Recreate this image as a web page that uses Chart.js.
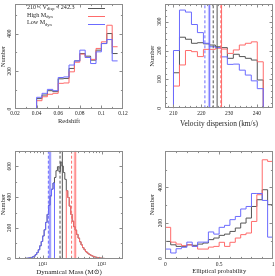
<!DOCTYPE html>
<html><head><meta charset="utf-8">
<script src="https://cdn.jsdelivr.net/npm/chart.js@4.4.0/dist/chart.umd.min.js"></script>
<style>
html,body{margin:0;padding:0;background:#fff;}
#wrap{position:relative;width:275px;height:276px;overflow:hidden;background:#fff;}
canvas{position:absolute;}
</style></head><body>
<div id="wrap">
<canvas id="c1" width="137" height="138" style="left:0;top:0"></canvas>
<canvas id="c2" width="138" height="138" style="left:137px;top:0"></canvas>
<canvas id="c3" width="137" height="138" style="left:0;top:138px"></canvas>
<canvas id="c4" width="138" height="138" style="left:137px;top:138px"></canvas>
</div>
<script>
// ---------------- DATA ----------------
// Panel 1: redshift (bins of 0.005 from 0.04)
const zBinStart = 0.04, zBinWidth = 0.005;
const zAll  = [55, 74, 97, 92, 160, 162, 215, 255, 294, 280, 259, 312, 347, 400, 294];
const zHigh = [44, 65, 78, 83, 136, 138, 197, 248, 291, 273, 263, 321, 356, 444, 330];
const zLow  = [62, 83, 104, 97, 167, 170, 233, 255, 312, 273, 241, 303, 347, 368, 255];
const zTicks = [0.02, 0.04, 0.06, 0.08, 0.10, 0.12];
const zCountTicks = [0, 200, 400];

// Panel 2: velocity dispersion (15 bins from 210 to 242.3)
const vBinStart = 210, vBinEnd = 242.3, vBinCount = 15;
const vAll  = [123, 246, 239, 225, 227, 223, 219, 213, 210, 173, 187, 179, 173, 167, 98];
const vHigh = [77, 150, 200, 196, 179, 204, 204, 208, 205, 190, 202, 219, 225, 230, 161];
const vLow  = [200, 340, 333, 290, 262, 225, 213, 210, 178, 152, 153, 132, 115, 95, 68];
const vTicks = [210, 220, 230, 240];
const vCountTicks = [0, 100, 200, 300];
const vMedianLow = 222.9, vMeanLow = 221.3;
const vMedianAll = 225.7, vMeanAll = 224.3;
const vMedianHigh = 227.3, vMeanHigh = 227.1;

// Panel 3: dynamical mass (log10 bins of 0.025 dex from 10.70)
const mBinStart = 10.70, mBinWidth = 0.025;
const mAll = [2, 3, 4, 6, 8, 12, 17, 27, 40, 58, 84, 112, 148, 188, 236, 288, 348, 408, 452, 492,
              528, 572, 598, 566, 628, 602, 560, 516,
              442, 398, 342, 288, 244, 208, 186, 158, 134, 110, 90, 72, 58, 46, 37, 30, 24, 19, 15, 11, 9, 7, 5, 4, 3, 2, 1, 1];
const mLowStart = 10.70;
const mLow = [2, 3, 4, 6, 8, 12, 17, 27, 40, 58, 84, 112, 148, 188, 236, 288, 348, 408, 452, 492];
const mHighStart = 11.40;
const mHigh = [442, 398, 342, 288, 244, 208, 186, 158, 134, 110, 90, 72, 58, 46, 37, 30, 24, 19, 15, 11, 9, 7, 5, 4, 3, 2, 1, 1];
const mTicks = [1e11, 1e12];
const mCountTicks = [0, 200, 400, 600];
const mMedianLow = 11.124, mMeanLow = 11.096;
const mMedianAll = 11.333, mMeanAll = 11.294;
const mMedianHigh = 11.55, mMeanHigh = 11.49;

// Panel 4: elliptical probability (bins of 0.05)
const pBinStart = 0, pBinWidth = 0.05;
const pAll  = [97, 78, 69, 69, 78, 75, 82, 88, 107, 116, 131, 138, 153, 172, 200, 228, 293, 331, 387, 303];
const pHigh = [176, 93, 82, 73, 78, 69, 54, 54, 65, 69, 92, 69, 92, 116, 135, 144, 209, 359, 555, 546];
const pLow  = [54, 32, 56, 64, 93, 69, 93, 93, 150, 138, 176, 187, 219, 237, 279, 293, 366, 366, 327, 121];
const pTicks = [0, 0.5, 1];
const pCountTicks = [0, 200, 400];

// ---------------- STYLE ----------------
const FONT = '"Liberation Serif", "DejaVu Serif", "DejaVu Sans", serif';
const TICK_SIZE = 5.5;
const TITLE_SIZE = 6.5;
const TEXT = '#262626';
const FRAME = '#8c8c8c';
const C_ALL = '#555555', C_HIGH = '#ff6b6b', C_LOW = '#6b6bff';

function edgesFrom(start, width, n) { const e = []; for (let i = 0; i <= n; i++) e.push(start + i * width); return e; }
function stepPoints(edges, values, rise, drop, tf) {
  tf = tf || (v => v);
  const pts = [];
  if (rise) pts.push({x: tf(edges[0]), y: 0});
  values.forEach((v, i) => pts.push({x: tf(edges[i]), y: v}));
  pts.push({x: tf(edges[values.length]), y: drop ? 0 : values[values.length - 1]});
  return pts;
}
function hist(pts, color) {
  return {data: pts, stepped: true, borderColor: color, borderWidth: 1, pointRadius: 0, fill: false, tension: 0};
}
function vline(x, yMax, color, dash, width) {
  return {data: [{x: x, y: 0}, {x: x, y: yMax}], borderColor: color, borderWidth: width || 1,
          borderDash: dash ? [3, 2] : [], pointRadius: 0, fill: false};
}
function range(a, b, s) { const r = []; for (let v = a; v <= b + 1e-9; v += s) r.push(+v.toFixed(6)); return r; }

const frameTicks = {
  id: 'frameTicks',
  afterDatasetsDraw(chart, args, o) {
    const {ctx, chartArea: a} = chart;
    const xs = chart.scales.x, ys = chart.scales.y;
    const L = Math.round(a.left) + 0.5, R = Math.round(a.right) - 0.5;
    const T = Math.round(a.top) + 0.5, B = Math.round(a.bottom) - 0.5;
    ctx.save();
    ctx.strokeStyle = o.color; ctx.lineWidth = 1;
    ctx.strokeRect(L, T, R - L, B - T);
    ctx.beginPath();
    const xt = (vals, len) => vals.forEach(v => {
      const p = Math.round(xs.getPixelForValue(v)) + 0.5;
      if (p < L + 1 || p > R - 1) return;
      ctx.moveTo(p, B); ctx.lineTo(p, B - len);
      ctx.moveTo(p, T); ctx.lineTo(p, T + len);
    });
    const yt = (vals, len) => vals.forEach(v => {
      const p = Math.round(ys.getPixelForValue(v)) + 0.5;
      if (p < T + 1 || p > B - 1) return;
      ctx.moveTo(L, p); ctx.lineTo(L + len, p);
      ctx.moveTo(R, p); ctx.lineTo(R - len, p);
    });
    xt(xs.ticks.map(t => t.value), o.major);
    yt(ys.ticks.map(t => t.value), o.major);
    xt(o.xMinor || [], o.minor);
    yt(o.yMinor || [], o.minor);
    ctx.stroke();
    ctx.restore();
  }
};

function drawRich(ctx, parts, x, y, size) {
  let cx = x;
  parts.forEach(p => {
    const s = p.sub ? size * 0.72 : size;
    ctx.font = s + 'px ' + FONT;
    ctx.fillText(p.t, cx, y + (p.sub ? size * 0.3 : 0));
    cx += ctx.measureText(p.t).width;
  });
}

const legendPlugin = {
  id: 'sketchLegend',
  afterDraw(chart, args, o) {
    if (!o.items) return;
    const ctx = chart.ctx;
    ctx.save();
    ctx.textBaseline = 'middle'; ctx.textAlign = 'left'; ctx.fillStyle = TEXT;
    o.items.forEach(it => {
      drawRich(ctx, it.parts, o.textX, it.y, o.size);
      ctx.strokeStyle = it.color; ctx.lineWidth = 1;
      ctx.beginPath(); ctx.moveTo(o.lineX0, Math.round(it.ly) + 0.5); ctx.lineTo(o.lineX1, Math.round(it.ly) + 0.5); ctx.stroke();
    });
    ctx.restore();
  }
};

function makeChart(id, g, c) {
  const canvas = document.getElementById(id);
  const ctx = canvas.getContext('2d');
  const W = canvas.width, H = canvas.height;
  const tickFont = {family: FONT, size: TICK_SIZE, lineHeight: 1};
  const titleSize = g.titleSize || TITLE_SIZE;
  const yTitleSize = g.yTitleSize || TITLE_SIZE;
  const titleFont = {family: FONT, size: titleSize, lineHeight: 1};
  const yTitleFont = {family: FONT, size: yTitleSize, lineHeight: 1};
  ctx.font = TICK_SIZE + 'px ' + FONT;
  const widest = Math.max(...c.yTicks.map(v => ctx.measureText(String(v)).width));
  const axisBottom = g.xTitleY + titleSize / 2;
  // Chart.js paints dataset 0 last (on top); list given bottom-to-top, so reverse.
  const datasets = c.datasets.slice().reverse();
  return new Chart(ctx, {
    type: 'line',
    data: {datasets: datasets},
    options: {
      responsive: false, animation: false, events: [],
      layout: {padding: {left: 0, top: g.T, right: W - g.R, bottom: H - axisBottom}},
      plugins: {
        legend: {display: false}, tooltip: {enabled: false},
        frameTicks: {color: FRAME, major: 3, minor: 1.6, xMinor: c.xMinor, yMinor: c.yMinor},
        sketchLegend: c.legend || {}
      },
      scales: {
        x: {
          type: c.xType || 'linear', min: c.xMin, max: c.xMax, bounds: 'data', position: 'bottom',
          grid: {display: false, drawTicks: false, tickLength: 0}, border: {display: false},
          ticks: {font: tickFont, color: TEXT, padding: g.xLabelY - g.B - TICK_SIZE / 2, autoSkip: false,
                  maxRotation: 0, minRotation: 0, callback: c.xFmt},
          afterBuildTicks: s => { s.ticks = c.xTicks.map(v => ({value: v})); },
          afterFit: s => { s.height = axisBottom - g.B; s.paddingLeft = 0; s.paddingRight = 0; },
          title: {display: true, text: c.xTitle, font: titleFont, color: TEXT, padding: 0}
        },
        y: {
          type: 'linear', min: 0, max: c.yMax, bounds: 'data', position: 'left',
          grid: {display: false, drawTicks: false, tickLength: 0}, border: {display: false},
          ticks: {font: tickFont, color: TEXT, minRotation: 90, maxRotation: 90, crossAlign: 'center',
                  padding: g.L - g.yLabelX - widest / 2, autoSkip: false},
          afterBuildTicks: s => { s.ticks = c.yTicks.map(v => ({value: v})); },
          afterFit: s => { s.width = g.L; s.paddingTop = 0; s.paddingBottom = 0; },
          title: {display: true, text: 'Number', font: yTitleFont, color: TEXT,
                  padding: {top: g.yTitleX - yTitleSize / 2, bottom: 0}}
        }
      }
    },
    plugins: [frameTicks, legendPlugin]
  });
}

const fmtDec = v => String(+(+v).toFixed(2));
const supDigits = {'0':'⁰','1':'¹','2':'²','3':'³','4':'⁴','5':'⁵','6':'⁶','7':'⁷','8':'⁸','9':'⁹'};
const fmtPow = v => '10' + String(Math.round(Math.log10(v))).split('').map(d => supDigits[d]).join('');

// Panel 1
const zEdges = edgesFrom(zBinStart, zBinWidth, zAll.length);
makeChart('c1', {L: 15, R: 123, T: 4.3, B: 109, xLabelY: 113.5, xTitleY: 121, yLabelX: 10, yTitleX: 3.5}, {
  xMin: 0.02, xMax: 0.12, xTicks: zTicks, xFmt: fmtDec, xTitle: 'Redshift',
  yMax: 555, yTicks: zCountTicks,
  xMinor: range(0.03, 0.11, 0.02), yMinor: range(100, 500, 200),
  datasets: [
    hist(stepPoints(zEdges, zAll, true, false), C_ALL),
    hist(stepPoints(zEdges, zHigh, true, false), C_HIGH),
    hist(stepPoints(zEdges, zLow, true, false), C_LOW)
  ],
  legend: {textX: 27, size: 6.1, lineX0: 88, lineX1: 105, items: [
    {parts: [{t: '210 < V'}, {t: 'disp', sub: true}, {t: ' < 242.3'}], y: 7, ly: 8, color: C_ALL},
    {parts: [{t: 'High M'}, {t: 'dyn', sub: true}], y: 15, ly: 16, color: C_HIGH},
    {parts: [{t: 'Low M'}, {t: 'dyn', sub: true}], y: 22.7, ly: 23.7, color: C_LOW}
  ]}
});

// Panel 2
const vEdges = edgesFrom(vBinStart, (vBinEnd - vBinStart) / vBinCount, vBinCount);
const vY = 361;
makeChart('c2', {L: 28.3, R: 135.7, T: 4, B: 108.3, xLabelY: 113.3, xTitleY: 124.5, yLabelX: 22.7, yTitleX: 15, titleSize: 7.4}, {
  xMin: 207.05, xMax: 245.7, xTicks: vTicks, xTitle: 'Velocity dispersion (km/s)',
  yMax: vY, yTicks: vCountTicks,
  xMinor: range(208, 244, 2), yMinor: range(20, 360, 20),
  datasets: [
    vline(vMedianLow, vY, 'rgba(107,107,255,0.3)', false, 3),
    hist(stepPoints(vEdges, vAll, true, true), C_ALL),
    hist(stepPoints(vEdges, vHigh, true, true), C_HIGH),
    hist(stepPoints(vEdges, vLow, true, true), C_LOW),
    vline(vMeanLow, vY, C_LOW, true), vline(vMedianLow, vY, C_LOW, false),
    vline(vMeanAll, vY, C_ALL, true), vline(vMedianAll, vY, C_ALL, false),
    vline(vMedianHigh, vY, C_HIGH, false), vline(vMeanHigh, vY, C_HIGH, true, 1.4)
  ]
});

// Panel 3
const mY = 702;
const toMass = e => Math.pow(10, e);
const mMinor = [];
[1e10, 1e11, 1e12].forEach(d => { for (let k = 2; k <= 9; k++) mMinor.push(k * d); });
makeChart('c3', {L: 15, R: 123, T: 12.7, B: 120.7, xLabelY: 126.3, xTitleY: 134, yLabelX: 10, yTitleX: 3.5, titleSize: 7}, {
  xType: 'logarithmic', xMin: Math.pow(10, 10.531), xMax: Math.pow(10, 12.361), xTicks: mTicks, xFmt: fmtPow,
  xTitle: 'Dynamical Mass (M\u2299)',
  yMax: mY, yTicks: mCountTicks,
  xMinor: mMinor, yMinor: range(100, 700, 200),
  datasets: [
    vline(toMass(mMedianLow), mY, 'rgba(107,107,255,0.3)', false, 3),
    vline(toMass(mMedianHigh), mY, 'rgba(255,107,107,0.3)', false, 3),
    hist(stepPoints(edgesFrom(mBinStart, mBinWidth, mAll.length), mAll, false, false, toMass), C_ALL),
    hist(stepPoints(edgesFrom(mLowStart, mBinWidth, mLow.length), mLow, false, true, toMass), C_LOW),
    hist(stepPoints(edgesFrom(mHighStart, mBinWidth, mHigh.length), mHigh, true, false, toMass), C_HIGH),
    vline(toMass(mMeanLow), mY, C_LOW, true), vline(toMass(mMedianLow), mY, C_LOW, false),
    vline(toMass(mMeanAll), mY, C_ALL, true), vline(toMass(mMedianAll), mY, C_ALL, false),
    vline(toMass(mMeanHigh), mY, C_HIGH, true), vline(toMass(mMedianHigh), mY, C_HIGH, false)
  ]
});

// Panel 4
const pEdges = edgesFrom(pBinStart, pBinWidth, pAll.length);
makeChart('c4', {L: 28.3, R: 136, T: 12.7, B: 120.7, xLabelY: 126.3, xTitleY: 133.5, yLabelX: 23.3, yTitleX: 15}, {
  xMin: 0, xMax: 1, xTicks: pTicks, xFmt: fmtDec, xTitle: 'Elliptical probability',
  yMax: 606, yTicks: pCountTicks,
  xMinor: range(0.1, 0.9, 0.1), yMinor: range(100, 500, 200),
  datasets: [
    hist(stepPoints(pEdges, pAll, true, true), C_ALL),
    hist(stepPoints(pEdges, pHigh, true, true), C_HIGH),
    hist(stepPoints(pEdges, pLow, true, true), C_LOW)
  ]
});
</script>
</body></html>
